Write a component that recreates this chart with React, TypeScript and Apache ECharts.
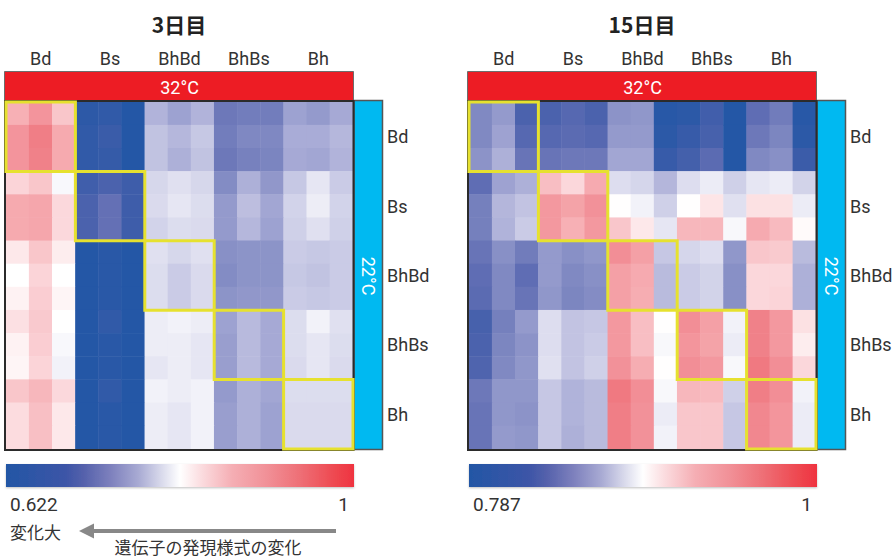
import React, { useEffect, useRef } from 'react';
import * as echarts from 'echarts';

const groupLabels = ['Bd', 'Bs', 'BhBd', 'BhBs', 'Bh'];
const cellIndex = ['0', '1', '2', '3', '4', '5', '6', '7', '8', '9', '10', '11', '12', '13', '14'];

const day3Title = '3日目';
const day3Min = 0.622;
const day3Max = 1;
const day3Values = [
  [0.887, 0.917, 0.864, 0.630, 0.633, 0.622, 0.747, 0.728, 0.747, 0.686, 0.690, 0.690, 0.728, 0.720, 0.735],
  [0.917, 0.943, 0.894, 0.633, 0.641, 0.622, 0.762, 0.751, 0.766, 0.690, 0.701, 0.701, 0.739, 0.739, 0.751],
  [0.917, 0.940, 0.894, 0.633, 0.637, 0.622, 0.762, 0.743, 0.762, 0.686, 0.694, 0.698, 0.735, 0.732, 0.747],
  [0.849, 0.864, 0.807, 0.648, 0.660, 0.645, 0.781, 0.792, 0.781, 0.705, 0.743, 0.717, 0.766, 0.796, 0.769],
  [0.894, 0.898, 0.845, 0.660, 0.679, 0.645, 0.785, 0.796, 0.788, 0.720, 0.758, 0.732, 0.777, 0.800, 0.777],
  [0.894, 0.898, 0.845, 0.660, 0.679, 0.645, 0.777, 0.788, 0.785, 0.720, 0.751, 0.728, 0.773, 0.792, 0.773],
  [0.830, 0.864, 0.826, 0.622, 0.626, 0.622, 0.792, 0.781, 0.792, 0.709, 0.713, 0.713, 0.769, 0.766, 0.769],
  [0.811, 0.849, 0.811, 0.622, 0.626, 0.622, 0.788, 0.769, 0.785, 0.705, 0.713, 0.713, 0.766, 0.762, 0.769],
  [0.822, 0.856, 0.819, 0.622, 0.626, 0.622, 0.788, 0.769, 0.785, 0.713, 0.717, 0.717, 0.769, 0.766, 0.769],
  [0.837, 0.860, 0.811, 0.622, 0.633, 0.622, 0.800, 0.803, 0.800, 0.728, 0.754, 0.735, 0.788, 0.803, 0.792],
  [0.822, 0.856, 0.807, 0.622, 0.626, 0.622, 0.800, 0.800, 0.796, 0.724, 0.754, 0.735, 0.788, 0.796, 0.788],
  [0.819, 0.849, 0.803, 0.622, 0.626, 0.622, 0.796, 0.800, 0.796, 0.724, 0.754, 0.735, 0.785, 0.796, 0.785],
  [0.864, 0.879, 0.845, 0.622, 0.633, 0.622, 0.803, 0.800, 0.803, 0.720, 0.743, 0.732, 0.788, 0.788, 0.788],
  [0.841, 0.871, 0.830, 0.622, 0.626, 0.622, 0.800, 0.796, 0.803, 0.724, 0.743, 0.728, 0.785, 0.785, 0.785],
  [0.841, 0.871, 0.830, 0.622, 0.626, 0.622, 0.800, 0.796, 0.803, 0.724, 0.743, 0.728, 0.785, 0.785, 0.785],
];

const day15Title = '15日目';
const day15Min = 0.787;
const day15Max = 1;
const day15Values = [
  [0.832, 0.842, 0.808, 0.808, 0.813, 0.808, 0.838, 0.840, 0.789, 0.791, 0.802, 0.787, 0.817, 0.825, 0.789],
  [0.832, 0.847, 0.813, 0.813, 0.815, 0.813, 0.842, 0.842, 0.791, 0.796, 0.806, 0.787, 0.823, 0.830, 0.791],
  [0.838, 0.855, 0.821, 0.821, 0.823, 0.823, 0.849, 0.849, 0.796, 0.804, 0.815, 0.787, 0.832, 0.836, 0.798],
  [0.817, 0.847, 0.855, 0.928, 0.913, 0.940, 0.881, 0.876, 0.859, 0.881, 0.887, 0.872, 0.885, 0.887, 0.874],
  [0.827, 0.859, 0.866, 0.951, 0.945, 0.955, 0.894, 0.889, 0.872, 0.894, 0.906, 0.883, 0.908, 0.908, 0.887],
  [0.827, 0.857, 0.870, 0.951, 0.936, 0.951, 0.923, 0.904, 0.885, 0.932, 0.932, 0.891, 0.940, 0.930, 0.896],
  [0.821, 0.836, 0.825, 0.842, 0.836, 0.840, 0.957, 0.947, 0.868, 0.876, 0.881, 0.840, 0.923, 0.921, 0.862],
  [0.817, 0.832, 0.817, 0.842, 0.832, 0.836, 0.947, 0.940, 0.862, 0.870, 0.874, 0.836, 0.913, 0.913, 0.855],
  [0.815, 0.832, 0.821, 0.840, 0.830, 0.834, 0.947, 0.938, 0.862, 0.870, 0.874, 0.836, 0.913, 0.915, 0.855],
  [0.806, 0.827, 0.842, 0.881, 0.866, 0.868, 0.951, 0.928, 0.894, 0.957, 0.947, 0.889, 0.966, 0.951, 0.908],
  [0.808, 0.830, 0.838, 0.881, 0.866, 0.870, 0.951, 0.928, 0.891, 0.953, 0.945, 0.887, 0.966, 0.951, 0.902],
  [0.810, 0.832, 0.840, 0.883, 0.866, 0.872, 0.955, 0.938, 0.894, 0.957, 0.951, 0.891, 0.970, 0.957, 0.913],
  [0.823, 0.840, 0.840, 0.868, 0.857, 0.862, 0.970, 0.957, 0.891, 0.932, 0.930, 0.872, 0.968, 0.957, 0.889],
  [0.821, 0.840, 0.838, 0.868, 0.857, 0.862, 0.968, 0.955, 0.887, 0.923, 0.923, 0.868, 0.962, 0.953, 0.887],
  [0.821, 0.842, 0.840, 0.868, 0.855, 0.862, 0.968, 0.955, 0.889, 0.923, 0.923, 0.868, 0.962, 0.953, 0.887],
];

const hotLabel = '32°C';
const coldLabel = '22°C';
const maxLabel = '1';
const arrowLabel = '変化大';
const captionLabel = '遺伝子の発現様式の変化';

const cellColors = [
  '#2457a6', '#3a5ca9', '#4b62ad', '#6470b5', '#7b85c0', '#9097ca', '#a6a9d5',
  '#b8badd', '#cfd0e8', '#e0e0f0', '#ffffff', '#fde8ea', '#fbd4d8', '#f8c2c7',
  '#f7b0b5', '#f4a0a6', '#f28d95', '#f07e86', '#f0646d', '#ef4c54', '#ee3339',
];
const barStops = [
  [0, '#2356a5'], [0.17, '#3c55a7'], [0.22, '#5360ab'], [0.3, '#7d80bd'],
  [0.38, '#a8aad3'], [0.44, '#d4d5e9'], [0.5, '#ffffff'], [0.56, '#fbdde0'],
  [0.65, '#f5aeb4'], [0.75, '#f19097'], [0.85, '#ee6d74'], [0.94, '#ee4a52'], [1, '#ef3340'],
];

const FONT = "Roboto, 'Noto Sans CJK JP', sans-serif";
const JP = "'Noto Sans CJK JP', sans-serif";

const TOP = 102;
const SIZE = 347;
const CELL = SIZE / 15;

function toCells(m: number[][]) {
  const out: number[][] = [];
  m.forEach((row, r) => row.forEach((v, c) => out.push([c, r, v])));
  return out;
}

export default function App() {
  const ref = useRef<HTMLDivElement>(null);
  useEffect(() => {
    if (!ref.current) return;
    const chart = echarts.init(ref.current, undefined, { renderer: 'svg' });
    const panels = [
      { left: 6, title: day3Title, values: day3Values, min: day3Min, max: day3Max },
      { left: 469, title: day15Title, values: day15Values, min: day15Min, max: day15Max },
    ];
    const grid: any[] = [];
    const xAxis: any[] = [];
    const yAxis: any[] = [];
    const series: any[] = [];
    const visualMap: any[] = [];
    const graphic: any[] = [];

    panels.forEach((p, i) => {
      const L = p.left;
      grid.push({ left: L, top: TOP, width: SIZE, height: SIZE });
      xAxis.push({ type: 'category', gridIndex: i, data: cellIndex, show: false });
      xAxis.push({
        type: 'category', gridIndex: i, data: groupLabels, position: 'top',
        axisLine: { show: false }, axisTick: { show: false }, splitLine: { show: false },
        axisLabel: { margin: 35, fontSize: 18, color: '#333', fontFamily: FONT },
      });
      yAxis.push({ type: 'category', gridIndex: i, data: cellIndex, inverse: true, show: false });
      yAxis.push({
        type: 'category', gridIndex: i, data: groupLabels, inverse: true, position: 'right',
        axisLine: { show: false }, axisTick: { show: false }, splitLine: { show: false },
        axisLabel: { margin: 34, fontSize: 18, color: '#333', fontFamily: FONT, align: 'left' },
      });
      series.push({
        type: 'heatmap', xAxisIndex: 2 * i, yAxisIndex: 2 * i, data: toCells(p.values),
        emphasis: { disabled: true }, itemStyle: { borderWidth: 0 },
      });
      visualMap.push({
        type: 'continuous', show: false, seriesIndex: i, min: p.min, max: p.max,
        inRange: { color: cellColors },
      });

      graphic.push({
        type: 'text', x: L + 173, y: 24, z: 50,
        style: { text: p.title, fill: '#222', font: `bold 21px ${JP}`, align: 'center', verticalAlign: 'middle' },
      });
      graphic.push({
        type: 'rect', z: 50, shape: { x: L - 1.5, y: 71.5, width: 349, height: 29 },
        style: { fill: '#ed1c24', stroke: '#6d6d6d', lineWidth: 1 },
      });
      graphic.push({
        type: 'text', x: L + 173.5, y: 87, z: 51,
        style: { text: hotLabel, fill: '#fff', font: `18px ${FONT}`, align: 'center', verticalAlign: 'middle' },
      });
      graphic.push({
        type: 'rect', z: 50, shape: { x: L + 348, y: 100.5, width: 28.5, height: 349 },
        style: { fill: '#00b9f1', stroke: '#555', lineWidth: 1.5 },
      });
      graphic.push({
        type: 'text', x: L + 362.5, y: 276, rotation: -Math.PI / 2, z: 51,
        style: { text: coldLabel, fill: '#fff', font: `18px ${FONT}`, align: 'center', verticalAlign: 'middle' },
      });
      graphic.push({
        type: 'rect', z: 52, shape: { x: L - 1, y: 101, width: 348.5, height: 349 },
        style: { fill: 'none', stroke: '#2b2b2b', lineWidth: 2 },
      });
      for (let k = 0; k < 5; k++) {
        graphic.push({
          type: 'rect', z: 53,
          shape: { x: L + 3 * k * CELL, y: TOP + 3 * k * CELL, width: 3 * CELL, height: 3 * CELL },
          style: { fill: 'none', stroke: '#e6e12f', lineWidth: 3 },
        });
      }
      graphic.push({
        type: 'rect', z: 50, shape: { x: L, y: 464, width: 348, height: 23 },
        style: {
          fill: new echarts.graphic.LinearGradient(0, 0, 1, 0,
            barStops.map(([o, c]) => ({ offset: o as number, color: c as string }))),
          shadowColor: 'rgba(0,0,0,0.25)', shadowBlur: 2, shadowOffsetY: 1,
        },
      });
      graphic.push({
        type: 'text', x: L + 4, y: 504, z: 50,
        style: { text: String(p.min), fill: '#333', font: `19px ${FONT}`, align: 'left', verticalAlign: 'middle' },
      });
      graphic.push({
        type: 'text', x: L + 337.5, y: 504, z: 50,
        style: { text: maxLabel, fill: '#333', font: `19px ${FONT}`, align: 'center', verticalAlign: 'middle' },
      });
    });

    graphic.push({
      type: 'text', x: 10, y: 531, z: 50,
      style: { text: arrowLabel, fill: '#333', font: `17px ${JP}`, align: 'left', verticalAlign: 'middle' },
    });
    graphic.push({
      type: 'line', z: 50, shape: { x1: 91, y1: 531, x2: 336, y2: 531 },
      style: { stroke: '#888', lineWidth: 4 },
    });
    graphic.push({
      type: 'polygon', z: 50, shape: { points: [[79, 531], [94, 523.5], [94, 538.5]] },
      style: { fill: '#888' },
    });
    graphic.push({
      type: 'text', x: 208, y: 546, z: 50,
      style: { text: captionLabel, fill: '#333', font: `17px ${JP}`, align: 'center', verticalAlign: 'middle' },
    });

    chart.setOption({
      animation: false,
      backgroundColor: '#ffffff',
      grid, xAxis, yAxis, series, visualMap, graphic,
    });
    return () => chart.dispose();
  }, []);
  return (
    <div
      ref={ref}
      style={{ position: 'absolute', left: 0, top: 0, width: 896, height: 557 }}
    />
  );
}
